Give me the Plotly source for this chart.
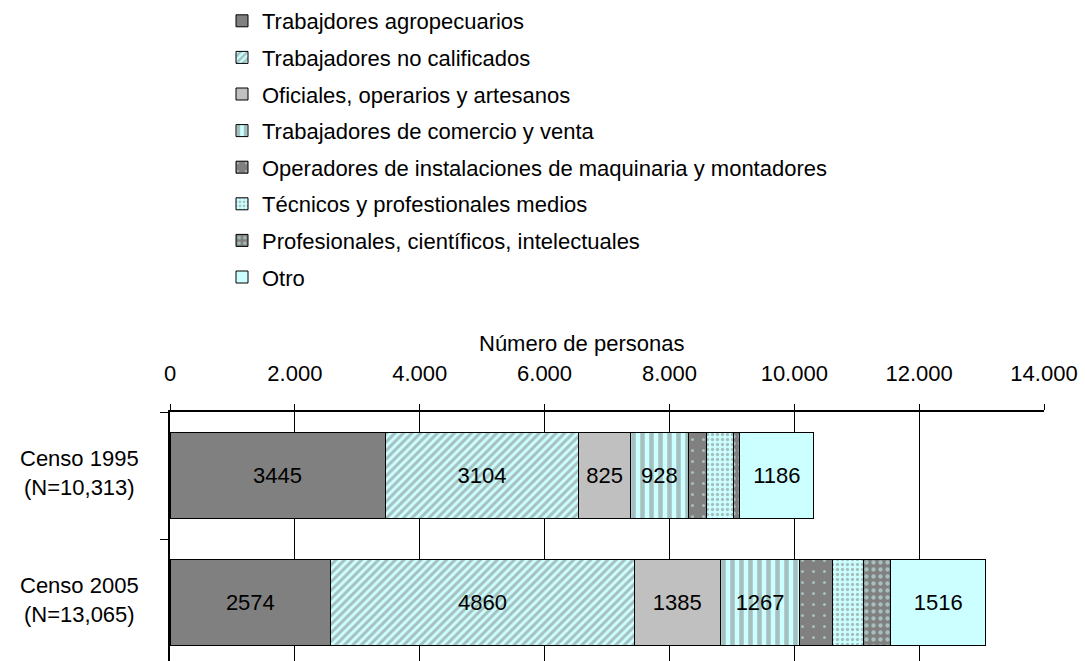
import plotly.graph_objects as go

CATEGORIES = ["Censo 1995", "Censo 2005"]
CATEGORY_LABELS = ["Censo 1995<br>(N=10,313)", "Censo 2005<br>(N=13,065)"]

SERIES = [
    "Trabajdores agropecuarios",
    "Trabajadores no calificados",
    "Oficiales, operarios y artesanos",
    "Trabajadores de comercio y venta",
    "Operadores de instalaciones de maquinaria y montadores",
    "Técnicos y profestionales medios",
    "Profesionales, científicos, intelectuales",
    "Otro",
]

# values per series: [1995, 2005]
agropecuarios = [3445, 2574]
no_calificados = [3104, 4860]
oficiales = [825, 1385]
comercio = [928, 1267]
operadores = [285, 530]
tecnicos = [445, 500]
profesionales = [95, 433]
otro = [1186, 1516]

VALUES = [agropecuarios, no_calificados, oficiales, comercio,
          operadores, tecnicos, profesionales, otro]
LABELLED = [True, True, True, True, False, False, False, True]

GRAY = "#808080"
CYAN = "#CCFFFF"
STYLES = [
    dict(color=GRAY, pattern=dict(shape="")),
    dict(color=CYAN, pattern=dict(shape="/", fgcolor=GRAY, bgcolor=CYAN, size=6, solidity=0.5)),
    dict(color="#C0C0C0", pattern=dict(shape="")),
    dict(color=CYAN, pattern=dict(shape="|", fgcolor=GRAY, bgcolor=CYAN, size=9, solidity=0.5)),
    dict(color=GRAY, pattern=dict(shape=".", fgcolor=CYAN, bgcolor=GRAY, size=11, solidity=0.06)),
    dict(color=CYAN, pattern=dict(shape=".", fgcolor=GRAY, bgcolor=CYAN, size=5, solidity=0.35)),
    dict(color=GRAY, pattern=dict(shape=".", fgcolor=CYAN, bgcolor=GRAY, size=7, solidity=0.3)),
    dict(color=CYAN, pattern=dict(shape="")),
]

FONT = "Liberation Sans, Arial, sans-serif"
FS = 22

W, H = 1085, 661
L, T = 170, 412
R = 41
PLOT_W = W - L - R
PLOT_H = H - T

fig = go.Figure()
for i, (name, vals, style) in enumerate(zip(SERIES, VALUES, STYLES)):
    fig.add_trace(
        go.Bar(
            name=name,
            y=CATEGORIES,
            x=vals,
            orientation="h",
            width=0.677,
            legendgroup=f"g{i}",
            marker=dict(color=style["color"], pattern=style["pattern"],
                        line=dict(color="black", width=1)),
            text=[str(v) for v in vals] if LABELLED[i] else None,
            textposition="inside",
            insidetextanchor="middle",
            textangle=0,
            textfont=dict(color="black", size=FS, family=FONT),
            hoverinfo="x+name",
        )
    )

for cat, label in zip(CATEGORIES, CATEGORY_LABELS):
    fig.add_annotation(
        x=(79 - L) / PLOT_W, xref="paper", y=cat, yref="y", yshift=3,
        text=label, showarrow=False, xanchor="center", align="center",
        font=dict(size=FS, family=FONT, color="black"),
    )

fig.add_annotation(
    x=(581 - L) / PLOT_W, xref="paper", y=(H - 343) / PLOT_H, yref="paper",
    text="Número de personas", showarrow=False, xanchor="center", yanchor="middle",
    font=dict(size=FS, family=FONT, color="black"),
)

fig.update_layout(
    width=W,
    height=H,
    barmode="stack",
    plot_bgcolor="white",
    paper_bgcolor="white",
    separators=",.",
    font=dict(family=FONT, size=FS, color="black"),
    margin=dict(l=L, r=R, t=T, b=0),
    showlegend=True,
    legend=dict(
        x=(222 - L) / PLOT_W, xanchor="left",
        y=H / PLOT_H, yanchor="top",
        traceorder="grouped",
        tracegroupgap=5,
        font=dict(size=FS, family=FONT),
        itemclick=False,
    ),
    xaxis=dict(
        side="top",
        range=[0, 14000],
        dtick=2000,
        tickformat=",d",
        showgrid=True,
        gridcolor="black",
        gridwidth=1,
        zeroline=False,
        showline=True,
        linecolor="black",
        linewidth=2,
        ticks="outside",
        ticklen=6,
        tickcolor="black",
        ticklabelstandoff=14,
        tickfont=dict(size=FS, family=FONT),
    ),
    yaxis=dict(
        type="category",
        categoryorder="array",
        categoryarray=CATEGORIES,
        range=[1.46, -0.5],
        showticklabels=False,
        tickson="boundaries",
        ticks="outside",
        ticklen=8,
        tickcolor="black",
        showline=True,
        linecolor="black",
        linewidth=2,
        showgrid=False,
        zeroline=False,
    ),
)

# drop the default page margin so the figure fills the window exactly
fig.write_html(
    "out.html",
    config={"displayModeBar": False},
    post_script="document.body.style.margin = '0';",
)
